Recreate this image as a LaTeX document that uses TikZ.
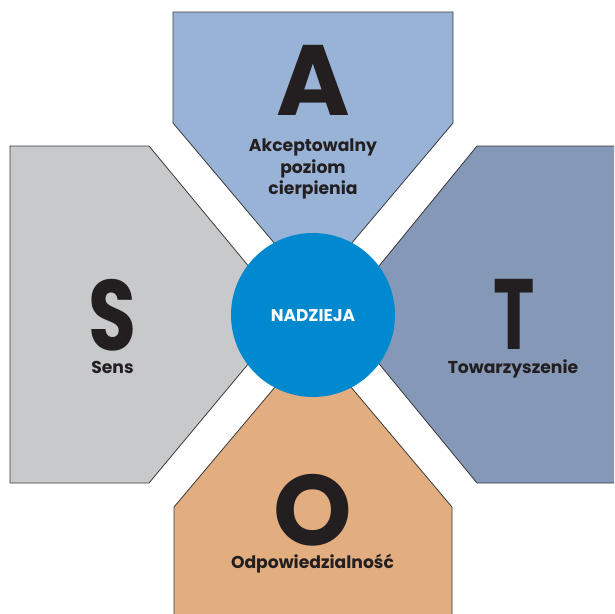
\documentclass[tikz,border=0pt]{standalone}
\usepackage{fontspec}
\setmainfont{Poppins}
\definecolor{topblue}{HTML}{99B3D7}
\definecolor{leftgray}{HTML}{C8C9CB}
\definecolor{rightblue}{HTML}{8598B8}
\definecolor{bottomtan}{HTML}{E2AE80}
\definecolor{hopeblue}{HTML}{0089CF}
\definecolor{edgegray}{HTML}{3A3A3A}
\definecolor{ink}{HTML}{231F20}
\begin{document}
\begin{tikzpicture}[x=1pt,y=-1pt,
  petal/.style={draw=edgegray,line width=0.8pt,line join=miter},
  bigletter/.style={font=\fontsize{100}{100}\selectfont\bfseries,text=ink,anchor=base,inner sep=0pt,text height=70pt,text depth=0pt},
  lab/.style={font=\fontsize{17.2}{21.5}\selectfont\bfseries,text=ink,anchor=base,inner sep=0pt,align=center,text height=12pt,text depth=3pt}]
\useasboundingbox (0,0) rectangle (614,614);
\begin{scope}
\clip (0,0) rectangle (614,614);
\path[petal,fill=topblue] (173,12) -- (453,12) -- (453,123) -- (313,289) -- (173,123) -- cycle;
\path[petal,fill=leftgray] (10,146) -- (149,146) -- (289,315) -- (149,483) -- (10,483) -- cycle;
\path[petal,fill=rightblue] (477,146) -- (620,146) -- (620,483) -- (477,483) -- (339,315) -- cycle;
\path[petal,fill=bottomtan] (174,620) -- (174,507) -- (313,342) -- (452,507) -- (452,620) -- cycle;
\end{scope}
\node[circle,fill=hopeblue,minimum size=164pt,inner sep=0pt] (hope) at (313,315) {};
\node[font=\fontsize{17}{17}\selectfont\bfseries,text=white,anchor=base,inner sep=0pt] (hopetxt) at (313,321.5) {NADZIEJA};
\node[bigletter] (A) at (313,115) {A};
\node[lab] (a1) at (313,151.5) {Akceptowalny};
\node[lab] (a2) at (313,173) {poziom};
\node[lab] (a3) at (313,194.5) {cierpienia};
\node[bigletter] (S) at (112,350) {\scalebox{0.78}[1]{S}};
\node[lab] (s1) at (112.5,373) {Sens};
\node[bigletter] (T) at (514,349) {\scalebox{0.7}[1]{T}};
\node[lab] (t1) at (513,373) {Towarzyszenie};
\node[bigletter] (O) at (313,545) {O};
\node[lab] (o1) at (312.5,568) {Odpowiedzialność};
\end{tikzpicture}
\end{document}
